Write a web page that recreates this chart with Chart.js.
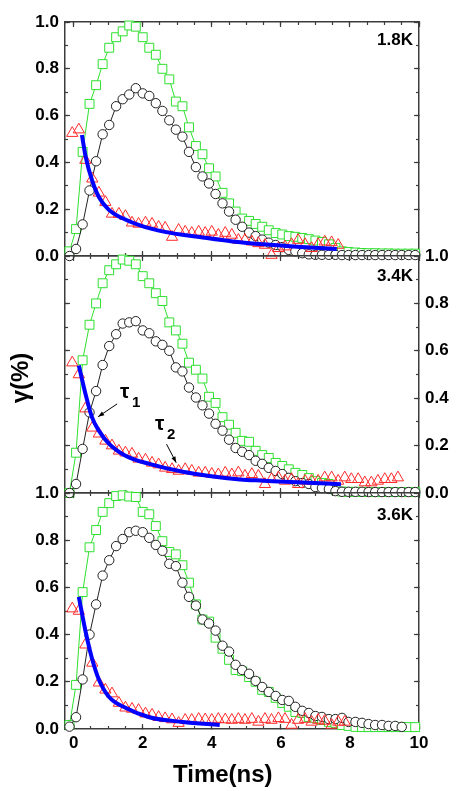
<!DOCTYPE html>
<html>
<head>
<meta charset="utf-8">
<script src="https://cdn.jsdelivr.net/npm/chart.js@4.4.0/dist/chart.umd.min.js"></script>
<style>
  html, body { margin: 0; padding: 0; background: #fff; }
  #wrap { position: relative; width: 463px; height: 791px; overflow: hidden;
          font-family: "Liberation Sans", Arial, sans-serif; font-weight: bold; }
  #wrap canvas { position: absolute; left: 0; top: 0; }
  .lbl { position: absolute; line-height: 0; white-space: nowrap; color: #000; }
</style>
</head>
<body>
<div id="wrap">
  <canvas id="c1" width="463" height="791"></canvas>
  <canvas id="c2" width="463" height="791"></canvas>
  <canvas id="c3" width="463" height="791"></canvas>

  <div class="lbl" style="right:50px;top:40px;font-size:17px">1.8K</div>
  <div class="lbl" style="right:50px;top:276px;font-size:17px">3.4K</div>
  <div class="lbl" style="right:50px;top:515px;font-size:17px">3.6K</div>

  <div class="lbl" style="left:120px;top:391px;font-size:21px">τ</div>
  <div class="lbl" style="left:132px;top:402px;font-size:15px">1</div>
  <div class="lbl" style="left:155px;top:423px;font-size:21px">τ</div>
  <div class="lbl" style="left:167px;top:434px;font-size:15px">2</div>

  <div class="lbl" style="left:173px;top:774px;font-size:24px">Time(ns)</div>
  <div style="position:absolute;left:-20px;top:366px;width:80px;height:24px;line-height:24px;
              text-align:center;font-size:24px;transform:rotate(-90deg);">γ(%)</div>
</div>

<script>
// sampling times of the squares / circles (ns)
var time = [-0.12, 0.07, 0.26, 0.46, 0.65, 0.84, 1.03, 1.23, 1.42, 1.61, 1.80, 2.00, 2.19, 2.38,
  2.57, 2.77, 2.96, 3.15, 3.34, 3.54, 3.73, 3.92, 4.11, 4.31, 4.50, 4.69, 4.88, 5.08, 5.27, 5.46,
  5.65, 5.85, 6.04, 6.23, 6.42, 6.62, 6.81, 7.00, 7.19, 7.39, 7.58, 7.77, 7.96, 8.16, 8.35, 8.54,
  8.73, 8.93, 9.12, 9.31, 9.50, 9.70, 9.89];
// sampling times of the triangles (ns)
var triTime = [-0.04, 0.15, 0.34, 0.54, 0.73, 0.92, 1.11, 1.31, 1.50, 1.69, 1.88, 2.08, 2.27, 2.46,
  2.65, 2.85, 3.04, 3.23, 3.42, 3.62, 3.81, 4.00, 4.19, 4.39, 4.58, 4.77, 4.96, 5.16, 5.35, 5.54,
  5.73, 5.93, 6.12, 6.31, 6.50, 6.70, 6.89, 7.08, 7.27, 7.47, 7.66, 7.85, 8.04, 8.24, 8.43, 8.62,
  8.81, 9.01, 9.20, 9.39];

// 1.8K
var green18 = [0.02, 0.115, 0.445, 0.65, 0.73, 0.82, 0.89, 0.935, 0.96, 0.985, 0.98, 0.935, 0.89,
  0.86, 0.80, 0.755, 0.66, 0.64, 0.55, 0.47, 0.435, 0.375, 0.34, 0.27, 0.225, 0.19, 0.16, 0.15,
  0.137, 0.125, 0.11, 0.098, 0.092, 0.085, 0.082, 0.077, 0.072, 0.066, 0.06, 0.05, 0.034, 0.02,
  0.017, 0.015, 0.013, 0.012, 0.012, 0.011, 0.011, 0.01, 0.01, 0.01, 0.01];
var black18 = [0.0, 0.03, 0.135, 0.28, 0.405, 0.52, 0.56, 0.64, 0.67, 0.69, 0.717, 0.695, 0.684,
  0.653, 0.62, 0.58, 0.54, 0.51, 0.445, 0.38, 0.34, 0.31, 0.265, 0.225, 0.19, 0.155, 0.125, 0.1,
  0.085, 0.07, 0.057, 0.047, 0.038, 0.026, 0.02, 0.012, 0.007, 0.005, 0.005, 0.005, 0.005, 0.004,
  0.004, 0.004, 0.004, 0.004, 0.004, 0.004, 0.004, 0.004, 0.004, 0.004, 0.004];
var red18 = [0.525, 0.54, 0.41, 0.33, 0.27, 0.23, 0.18, 0.18, 0.17, 0.142, 0.137, 0.142, 0.137,
  0.124, 0.12, 0.081, 0.111, 0.103, 0.098, 0.103, 0.098, 0.103, 0.09, 0.098, 0.09, 0.068, 0.068,
  0.061, 0.054, 0.047, 0.004, 0.033, 0.04, 0.05, 0.068, 0.05, 0.033, 0.05, 0.061, 0.058, 0.047];
var fitTime18 = [0.24, 0.35, 0.53, 0.73, 1.02, 1.4, 1.9, 2.68, 3.65, 4.6, 5.5, 6.47, 7.62];
var fit18 = [0.517, 0.423, 0.325, 0.252, 0.197, 0.162, 0.132, 0.102, 0.081, 0.062, 0.05, 0.04, 0.03];

// 3.4K
var green34 = [0.0, 0.17, 0.56, 0.71, 0.80, 0.885, 0.94, 0.965, 0.985, 0.98, 0.965, 0.915, 0.885,
  0.843, 0.81, 0.72, 0.686, 0.63, 0.55, 0.52, 0.483, 0.406, 0.38, 0.32, 0.288, 0.254, 0.22, 0.216,
  0.178, 0.16, 0.148, 0.127, 0.114, 0.1, 0.085, 0.076, 0.063, 0.05, 0.042, 0.038, 0.013, 0.006,
  0.005, 0.005, 0.005, 0.004, 0.004, 0.004, 0.004, 0.004, 0.004, 0.004, 0.004];
var black34 = [0.0, 0.038, 0.186, 0.34, 0.43, 0.54, 0.62, 0.67, 0.715, 0.72, 0.725, 0.686, 0.674,
  0.64, 0.625, 0.6, 0.53, 0.513, 0.445, 0.403, 0.37, 0.335, 0.292, 0.263, 0.225, 0.19, 0.174, 0.16,
  0.136, 0.123, 0.106, 0.093, 0.08, 0.064, 0.05, 0.042, 0.038, 0.025, 0.021, 0.017, 0.008, 0.005,
  0.005, 0.005, 0.005, 0.004, 0.004, 0.004, 0.004, 0.004, 0.004, 0.004, 0.004];
var red34 = [0.55, 0.5, 0.356, 0.275, 0.25, 0.22, 0.2, 0.178, 0.17, 0.165, 0.144, 0.14, 0.127,
  0.12, 0.106, 0.1, 0.093, 0.1, 0.093, 0.085, 0.085, 0.08, 0.078, 0.085, 0.078, 0.086, 0.072,
  0.079, 0.072, 0.037, 0.058, 0.065, 0.051, 0.058, 0.037, 0.051, 0.051, 0.051, 0.065, 0.065,
  0.051, 0.065, 0.058, 0.058, 0.044, 0.044, 0.051, 0.058, 0.058, 0.065];
var fitTime34 = [0.15, 0.34, 0.53, 0.73, 1.02, 1.5, 2.19, 3.16, 4.82, 5.5, 6.47, 7.74];
var fit34 = [0.538, 0.42, 0.32, 0.263, 0.208, 0.157, 0.123, 0.09, 0.057, 0.052, 0.045, 0.037];

// 3.6K
var green36 = [0.017, 0.187, 0.58, 0.77, 0.843, 0.92, 0.957, 0.987, 0.99, 0.985, 0.983, 0.92, 0.91,
  0.86, 0.796, 0.75, 0.74, 0.694, 0.62, 0.528, 0.464, 0.455, 0.387, 0.34, 0.293, 0.25, 0.245, 0.22,
  0.2, 0.166, 0.157, 0.132, 0.11, 0.094, 0.072, 0.068, 0.051, 0.047, 0.038, 0.03, 0.026, 0.017,
  0.013, 0.009, 0.008, 0.008, 0.008, 0.008, 0.008, 0.008, 0.008, 0.008, 0.008];
var black36 = [0.01, 0.05, 0.21, 0.4, 0.528, 0.65, 0.715, 0.775, 0.805, 0.834, 0.84, 0.834, 0.81,
  0.78, 0.755, 0.7, 0.69, 0.62, 0.56, 0.523, 0.464, 0.447, 0.417, 0.353, 0.328, 0.272, 0.25, 0.234,
  0.204, 0.178, 0.157, 0.14, 0.123, 0.119, 0.094, 0.077, 0.068, 0.055, 0.051, 0.042, 0.042, 0.047,
  0.03, 0.03, 0.026, 0.021, 0.017, 0.017, 0.013, 0.013, 0.009];
var red36 = [0.51, 0.5, 0.357, 0.28, 0.196, 0.166, 0.15, 0.11, 0.09, 0.085, 0.08, 0.065, 0.06, 0.05,
  0.045, 0.04, 0.025, 0.038, 0.038, 0.042, 0.04, 0.038, 0.042, 0.04, 0.038, 0.042, 0.038, 0.042,
  0.03, 0.042, 0.038, 0.045, 0.042, 0.017, 0.038, 0.042, 0.03, 0.038, 0.034, 0.017, 0.03, 0.03];
var fitTime36 = [0.15, 0.35, 0.53, 0.73, 1.02, 1.5, 2.19, 3.16, 4.23];
var fit36 = [0.56, 0.41, 0.3, 0.21, 0.137, 0.09, 0.05, 0.03, 0.017];

var GREEN = '#2fe02f', RED = '#ff2a2a', BLUE = '#0000ff', DARK = '#222', FRAME = '#3c3c3c';
var tickFont = { family: 'Liberation Sans', size: 17, weight: 'bold' };

function pts(xs, ys) {
  var out = [];
  for (var i = 0; i < ys.length; i++) out.push({ x: xs[i], y: ys[i] });
  return out;
}

function xAxis(pos, step, len, weight, labels, h) {
  return {
    type: 'linear', position: pos, min: -0.25, max: 10, weight: weight,
    grid: { display: true, drawOnChartArea: false, drawTicks: true, tickLength: len, tickColor: FRAME, tickWidth: 1.2 },
    border: { display: weight > 0, color: FRAME, width: 1.5 },
    ticks: { stepSize: step, includeBounds: false, display: labels, autoSkip: false, maxRotation: 0,
             font: tickFont, color: '#000', padding: 9 },
    afterFit: function(s) { s.height = h; }
  };
}

function yAxis(pos, step, len, weight, labels, w) {
  return {
    type: 'linear', position: pos, min: 0, max: 1, weight: weight,
    grid: { display: true, drawOnChartArea: false, drawTicks: true, tickLength: len, tickColor: FRAME, tickWidth: 1.2 },
    border: { display: weight > 0, color: FRAME, width: 1.5 },
    ticks: { stepSize: step, display: labels, autoSkip: false, font: tickFont, color: '#000', padding: 11,
             callback: function(v) { return v.toFixed(1); } },
    afterFit: function(s) { s.width = w; }
  };
}

// little arrows pointing at the two decay parts
var arrowPlugin = {
  id: 'arrows',
  afterDatasetsDraw: function(chart) {
    var arrows = [[1.26, 0.376, 0.71, 0.322], [2.69, 0.206, 2.97, 0.128]];
    var ctx = chart.ctx, sx = chart.scales.x, sy = chart.scales.y;
    ctx.save();
    ctx.strokeStyle = '#000'; ctx.fillStyle = '#000'; ctx.lineWidth = 1;
    arrows.forEach(function(a) {
      var x1 = sx.getPixelForValue(a[0]), y1 = sy.getPixelForValue(a[1]);
      var x2 = sx.getPixelForValue(a[2]), y2 = sy.getPixelForValue(a[3]);
      var ang = Math.atan2(y2 - y1, x2 - x1);
      ctx.beginPath(); ctx.moveTo(x1, y1); ctx.lineTo(x2, y2); ctx.stroke();
      ctx.beginPath();
      ctx.moveTo(x2, y2);
      ctx.lineTo(x2 - 6 * Math.cos(ang) + 2.2 * Math.sin(ang), y2 - 6 * Math.sin(ang) - 2.2 * Math.cos(ang));
      ctx.lineTo(x2 - 6 * Math.cos(ang) - 2.2 * Math.sin(ang), y2 - 6 * Math.sin(ang) + 2.2 * Math.cos(ang));
      ctx.closePath(); ctx.fill();
    });
    ctx.restore();
  }
};

function panel(id, green, black, red, fitT, fit, top, bottom, leftLabels, rightLabels, xLabels, plugins) {
  return new Chart(document.getElementById(id), {
    type: 'line',
    data: {
      datasets: [
        { data: pts(fitT, fit), borderColor: BLUE, borderWidth: 4, pointRadius: 0,
          cubicInterpolationMode: 'monotone', order: 0 },
        { data: pts(triTime, red), showLine: false, pointStyle: 'triangle', pointRadius: 6.5,
          pointBorderColor: RED, pointBackgroundColor: 'rgba(0,0,0,0)', pointBorderWidth: 1, order: 1 },
        { data: pts(time, black), borderColor: DARK, borderWidth: 1, pointStyle: 'circle', pointRadius: 4.7,
          pointBorderColor: DARK, pointBackgroundColor: '#fff', pointBorderWidth: 1, order: 2 },
        { data: pts(time, green), borderColor: GREEN, borderWidth: 1, pointStyle: 'rect', pointRadius: 6.3,
          pointBorderColor: GREEN, pointBackgroundColor: '#fff', pointBorderWidth: 1, order: 3 }
      ]
    },
    options: {
      responsive: false, animation: false, devicePixelRatio: 1,
      clip: false,
      layout: { padding: { left: 0, right: 0, top: top, bottom: xLabels ? 0 : 791 - bottom } },
      plugins: { legend: { display: false }, tooltip: { enabled: false } },
      scales: {
        x: xAxis('bottom', 2, -5, 1, xLabels, xLabels ? 791 - bottom : 0),
        xm: xAxis('bottom', 0.5, -3, 0, false, 0),
        xt: xAxis('top', 2, -5, 1, false, 0),
        xtm: xAxis('top', 0.5, -3, 0, false, 0),
        y: yAxis('left', 0.2, -5, 1, leftLabels, 65),
        ym: yAxis('left', 0.1, -3, 0, false, 0),
        yr: yAxis('right', 0.2, -5, 1, rightLabels, 44),
        yrm: yAxis('right', 0.1, -3, 0, false, 0)
      }
    },
    plugins: plugins || []
  });
}

panel('c1', green18, black18, red18, fitTime18, fit18, 22, 256, true, false, false);
panel('c2', green34, black34, red34, fitTime34, fit34, 256, 493, false, true, false, [arrowPlugin]);
panel('c3', green36, black36, red36, fitTime36, fit36, 493, 729, true, false, true);
</script>
</body>
</html>
